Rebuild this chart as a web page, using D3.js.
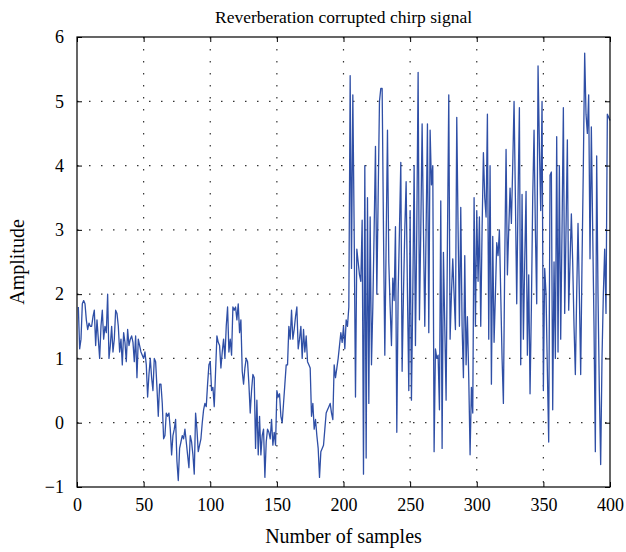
<!DOCTYPE html>
<html>
<head>
<meta charset="utf-8">
<script src="https://cdn.jsdelivr.net/npm/d3@7"></script>
<style>
  body { margin: 0; background: #fff; }
  text { font-family: "Liberation Serif", "DejaVu Serif", serif; fill: #000; }
</style>
</head>
<body>
<div id="chart"></div>
<script>
// Chart text and ticks
var chartTitle = "Reverberation corrupted chirp signal";
var xLabel = "Number of samples";
var yLabel = "Amplitude";
var xTicks = [0, 50, 100, 150, 200, 250, 300, 350, 400];
var yTicks = [-1, 0, 1, 2, 3, 4, 5, 6];

// Signal values, samples 1..400
var amplitude = [
  1.8, 1.15, 1.3, 1.85, 1.9, 1.85, 1.6, 1.45, 1.55,
  1.5, 1.5, 1.65, 1.75, 1.2, 1.6, 1.3, 1.0, 1.5, 1.75,
  1.3, 1.5, 1.4, 2.0, 1.0, 1.2, 1.5, 1.1, 1.3, 1.75,
  1.7, 1.5, 1.1, 1.3, 0.9, 1.4, 1.25, 0.95, 1.45, 1.2,
  1.3, 1.35, 1.25, 0.95, 1.35, 0.7, 1.3, 1.2, 1.1, 1.05,
  1.0, 1.1, 0.9, 0.4, 0.75, 1.0, 0.7, 0.5, 1.0, 0.95,
  0.55, 0.1, 0.6, 0.6, 0.3, -0.25, -0.2, 0.15, 0.1, 0.15,
  -0.1, -0.5, -0.2, -0.1, 0.05, -0.6, -0.9, -0.4, -0.3, -0.2,
  -0.25, -0.1, -0.3, -0.5, -0.7, -0.2, -0.3, -0.5, -0.8, 0.15,
  -0.1, -0.45, -0.35, -0.25, 0.0, 0.2, 0.3, 0.25, 0.6, 0.9,
  0.95, 0.5, 0.55, 0.25, 0.8, 1.35, 1.25, 1.2, 0.85, 1.1,
  1.3, 1.0, 1.5, 1.8, 1.1, 1.3, 1.05, 1.8, 1.75, 1.8,
  1.6, 1.85, 1.4, 1.6, 0.8, 0.6, 0.85, 1.0, 0.95, 0.6,
  0.15, 0.5, 0.75, 0.7, -0.4, 0.35, -0.5, 0.1, -0.5, -0.2,
  -0.1, -0.85, -0.3, -0.1, -0.15, -0.25, 0.05, -0.35, -0.15, -0.35,
  0.5, 0.4, 0.45, 0.1, 0.0, 0.3, 0.6, 0.9, 0.9, 1.5,
  1.3, 1.75, 1.3, 1.45, 1.65, 1.8, 1.15, 1.3, 1.5, 1.0,
  1.45, 1.1, 1.35, 0.95, 0.9, 0.85, 0.1, 0.3, -0.1, 0.05,
  -0.2, -0.4, -0.85, -0.45, -0.4, -0.35, -0.1, 0.15, 0.2, 0.25,
  0.3, 0.15, 0.05, 0.9, 0.7, 0.85, 1.0, 1.2, 1.4, 1.25,
  1.5, 1.15, 1.6, 1.5, 1.8, 5.4, 2.4, 5.1, 3.0, 0.4,
  2.7, 2.5, 2.3, 2.2, 3.15, -0.8, 4.0, -0.55, 3.5, 0.3,
  3.2, 0.9, 1.8, 3.0, 4.3, 2.0, 3.5, 5.0, 5.2, 5.2,
  3.0, 1.05, 2.8, 4.55, 2.5, 1.8, 1.2, 2.25, 1.9, 3.05,
  -0.15, 2.0, 3.0, 4.05, 0.8, 2.0, 3.0, 3.75, 2.0, 0.5,
  3.3, 0.35, 2.0, 4.0, 1.2, 3.0, 5.45, 1.6, 3.0, 4.65,
  3.0, 1.5, 3.0, 4.65, 1.4, 4.55, 3.7, 4.0, -0.45, 1.15,
  1.0, 1.05, 0.2, 3.45, -0.4, 2.65, 1.5, 0.35, 2.8, 5.1,
  1.3, 2.0, 2.55, 2.0, 1.45, 4.75, 3.0, 1.5, 3.35, 1.5,
  0.7, 2.6, 0.9, 1.65, 0.7, -0.5, 0.55, 0.15, 3.5, 1.5,
  3.3, 2.2, 3.2, 1.5, 3.0, 4.2, 3.5, 3.2, 4.8, 1.3,
  4.0, 0.6, 2.9, 1.25, 2.0, 2.8, 2.6, 3.0, 2.0, 1.0,
  0.3, 2.5, 4.25, 2.3, 3.0, 3.65, 3.1, 4.0, 5.0, 3.5,
  1.85, 3.5, 4.9, 0.9, 3.55, 1.3, 2.5, 3.6, 1.05, 2.3,
  0.45, 1.8, 3.5, 4.55, 3.0, 1.85, 5.55, 4.3, 3.3, 5.0,
  0.5, 2.4, 2.0, 0.8, -0.3, 3.85, 3.9, 0.2, 2.5, 1.0,
  4.45, 1.1, 4.0, 1.3, 3.0, 4.9, 1.7, 3.0, 4.4, 1.75,
  2.5, 3.25, 2.5, 1.5, 0.75, 2.0, 3.1, 2.0, 0.75, 2.5,
  4.0, 5.75, 4.8, 4.5, 5.1, 2.55, 4.6, 3.0, 1.5, -0.45,
  4.15, 2.0, 0.5, -0.65, 1.0, 2.0, 2.7, 1.7, 4.8, 4.75,
  4.7
];

// Set up the chart dimensions
var width = 626;
var height = 552;
var margin = { top: 37, right: 16, bottom: 65, left: 77 };
var plotWidth = width - margin.left - margin.right;
var plotHeight = height - margin.top - margin.bottom;

var svg = d3.select("#chart")
  .append("svg")
  .attr("width", width)
  .attr("height", height);

var g = svg.append("g")
  .attr("transform", "translate(" + margin.left + "," + margin.top + ")");

var xScale = d3.scaleLinear().domain([0, 400]).range([0, plotWidth]);
var yScale = d3.scaleLinear().domain([-1, 6]).range([plotHeight, 0]);

// Dotted grid
g.append("g")
  .selectAll("line")
  .data(xTicks.slice(1, -1))
  .enter()
  .append("line")
  .attr("x1", function(d) { return xScale(d); })
  .attr("x2", function(d) { return xScale(d); })
  .attr("y1", 0)
  .attr("y2", plotHeight)
  .attr("stroke", "#333")
  .attr("stroke-width", 1.2)
  .attr("stroke-dasharray", "1.5,10.5");

g.append("g")
  .selectAll("line")
  .data(yTicks.slice(1, -1))
  .enter()
  .append("line")
  .attr("x1", 0)
  .attr("x2", plotWidth)
  .attr("y1", function(d) { return yScale(d); })
  .attr("y2", function(d) { return yScale(d); })
  .attr("stroke", "#333")
  .attr("stroke-width", 1.2)
  .attr("stroke-dasharray", "1.5,10.5");

// Signal line
var line = d3.line()
  .x(function(d, i) { return xScale(i + 1); })
  .y(function(d) { return yScale(d); });

g.append("path")
  .datum(amplitude)
  .attr("fill", "none")
  .attr("stroke", "#2f4fa6")
  .attr("stroke-width", 1.3)
  .attr("stroke-linejoin", "round")
  .attr("d", line);

// Axes with inward ticks on all four sides
var tickLen = 5;
function styleAxis(sel) {
  sel.select(".domain").remove();
  sel.selectAll(".tick line").attr("stroke", "#000");
  sel.selectAll("text").style("font-family", "'Liberation Serif', serif").style("font-size", "18px");
}

g.append("g")
  .attr("transform", "translate(0," + plotHeight + ")")
  .call(d3.axisBottom(xScale).tickValues(xTicks).tickSizeInner(-tickLen).tickPadding(11))
  .call(styleAxis);

g.append("g")
  .call(d3.axisTop(xScale).tickValues(xTicks).tickSizeInner(-tickLen).tickFormat(""))
  .call(styleAxis);

g.append("g")
  .call(d3.axisLeft(yScale).tickValues(yTicks).tickSizeInner(-tickLen).tickPadding(13)
    .tickFormat(function(d) { return d < 0 ? "\u2212" + Math.abs(d) : d; }))
  .call(styleAxis);

g.append("g")
  .attr("transform", "translate(" + plotWidth + ",0)")
  .call(d3.axisRight(yScale).tickValues(yTicks).tickSizeInner(-tickLen).tickFormat(""))
  .call(styleAxis);

// Frame
g.append("rect")
  .attr("width", plotWidth)
  .attr("height", plotHeight)
  .attr("fill", "none")
  .attr("stroke", "#000")
  .attr("stroke-width", 1.2);

// Title and labels
svg.append("text")
  .attr("x", margin.left + plotWidth / 2)
  .attr("y", 23)
  .attr("text-anchor", "middle")
  .style("font-size", "17.5px")
  .text(chartTitle);

svg.append("text")
  .attr("x", margin.left + plotWidth / 2)
  .attr("y", 543)
  .attr("text-anchor", "middle")
  .style("font-size", "20px")
  .text(xLabel);

svg.append("text")
  .attr("transform", "translate(24," + (margin.top + plotHeight / 2) + ") rotate(-90)")
  .attr("text-anchor", "middle")
  .style("font-size", "20px")
  .text(yLabel);
</script>
</body>
</html>
